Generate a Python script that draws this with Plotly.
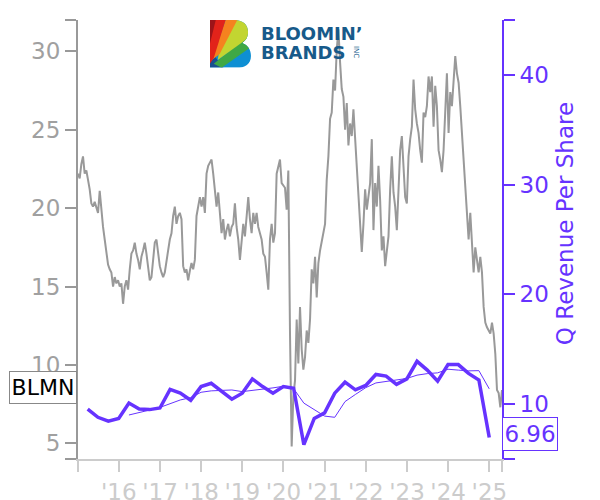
import base64
import pandas as pd
import plotly.graph_objects as go

# ---------------- data ----------------
price_start = "2015-01-04"
price_end = "2025-04-23"
price_values = [
    22.2, 21.9, 22.8, 23.3, 22.2, 22.4, 21.8, 21.2, 20.3, 20.1,
    20.4, 20.1, 19.7, 21.1, 19.7, 18.8, 18.0, 17.1, 16.4, 16.1,
    15.9, 15.0, 15.6, 15.2, 15.4, 15.0, 15.2, 13.9, 15.0, 15.4,
    14.8, 16.1, 17.1, 17.3, 17.8, 17.1, 16.7, 16.1, 16.9, 17.3,
    17.8, 17.1, 16.3, 15.4, 15.6, 16.9, 17.8, 18.0, 17.1, 16.3,
    15.9, 15.6, 15.9, 16.5, 17.3, 18.0, 18.4, 19.5, 20.1, 19.0,
    19.5, 19.7, 19.3, 16.3, 15.9, 16.1, 15.4, 16.0, 16.5, 16.1,
    16.7, 19.5, 20.1, 20.7, 20.1, 20.7, 19.7, 22.2, 22.7, 22.9,
    23.1, 22.2, 21.2, 20.1, 21.0, 19.5, 18.4, 19.3, 18.0, 18.6,
    19.0, 18.2, 18.8, 19.0, 20.3, 18.8, 18.0, 16.7, 17.8, 19.0,
    18.2, 19.7, 20.7, 19.3, 18.4, 19.7, 19.0, 19.7, 18.8, 18.4,
    18.0, 17.1, 16.9, 15.9, 14.8, 18.0, 19.0, 17.8, 18.4, 22.2,
    22.7, 23.1, 21.6, 21.4, 21.3, 19.9, 22.4, 12.0, 4.8, 8.0,
    9.0, 12.9, 10.1, 13.7, 11.0, 9.7, 10.5, 12.2, 11.4, 12.9,
    16.1, 15.2, 16.9, 14.3, 16.5, 17.3, 17.8, 18.4, 19.0, 21.8,
    23.3, 25.7, 26.1, 28.2, 27.5, 30.1, 31.4, 29.3, 27.6, 27.1,
    25.0, 26.7, 24.0, 25.4, 24.6, 26.3, 24.4, 22.9, 20.7, 19.5,
    17.2, 19.0, 21.2, 19.9, 20.7, 21.6, 24.4, 18.6, 21.6, 20.1,
    22.7, 20.5, 17.3, 18.2, 16.3, 17.2, 18.2, 21.2, 23.3, 21.0,
    20.1, 18.6, 21.2, 23.7, 24.6, 22.3, 20.7, 20.3, 23.3, 24.4,
    25.2, 28.2, 26.3, 25.4, 24.8, 23.7, 22.9, 26.1, 25.8, 26.5,
    28.4, 27.4, 28.4, 25.2, 27.8, 26.5, 23.7, 23.1, 22.3, 23.7,
    25.8, 28.6, 24.8, 27.4, 26.5, 28.0, 29.7, 28.6, 28.0, 26.5,
    24.8, 23.1, 21.8, 19.5, 18.0, 19.7, 18.0, 15.9, 17.5, 16.5,
    15.9, 16.9, 15.9, 13.7, 12.7, 12.4, 12.2, 12.0, 12.7, 12.0,
    10.7, 8.4, 8.2, 7.3, 8.4,
]

quarter_dates = [f"{y}-{md}" for y in range(2015, 2025)
                 for md in ("03-31", "06-30", "09-30", "12-31")]
rev_per_share = [
    9.55, 8.8, 8.45, 8.7, 10.1, 9.55, 9.5, 9.65, 11.35, 11.0,
    10.35, 11.6, 11.9, 11.2, 10.45, 11.0, 12.3, 11.6, 11.0, 11.6,
    11.45, 6.3, 8.7, 9.2, 11.0, 12.0, 11.3, 11.7, 12.7, 12.55,
    11.8, 12.3, 13.9, 13.1, 12.1, 13.6, 13.6, 12.8, 12.2, 6.96,
]
avg_dates = quarter_dates[4:]
rev_avg = [
    9.01, 9.2, 9.46, 9.7, 10.01, 10.38, 10.59, 11.08, 11.21, 11.26,
    11.29, 11.14, 11.24, 11.34, 11.48, 11.63, 11.41, 10.09, 9.51, 8.91,
    8.8, 10.23, 10.88, 11.5, 11.93, 12.06, 12.19, 12.34, 12.64, 12.78,
    12.85, 13.18, 13.1, 13.03, 13.05, 11.39,
]

year_ticks = [f"{y}-01-01" for y in range(2016, 2026)]
year_labels = [f"'{str(y)[2:]}" for y in range(2016, 2026)]
left_ticks = [5, 10, 15, 20, 25, 30]
right_ticks = [10, 20, 30, 40]
left_range = [4, 32]
right_range = [5, 45]

ticker = "BLMN"
last_rev_label = "6.96"

# ---------------- figure ----------------
price_dates = pd.date_range(price_start, price_end, periods=len(price_values))

PURPLE = "#6633ff"
GRAY = "#999999"
FONT = "DejaVu Sans"

fig = go.Figure()
fig.add_trace(go.Scatter(x=price_dates, y=price_values, mode="lines",
                         line=dict(color=GRAY, width=2), yaxis="y",
                         showlegend=False, hoverinfo="skip"))
fig.add_trace(go.Scatter(x=avg_dates, y=rev_avg, mode="lines",
                         line=dict(color=PURPLE, width=1), yaxis="y2",
                         showlegend=False, hoverinfo="skip"))
fig.add_trace(go.Scatter(x=quarter_dates, y=rev_per_share, mode="lines",
                         line=dict(color=PURPLE, width=3.5), yaxis="y2",
                         showlegend=False, hoverinfo="skip"))

# the page places the figure 8px in from the top-left corner
fig.update_layout(
    width=592, height=492,
    margin=dict(l=70, r=98, t=12, b=41, autoexpand=False),
    paper_bgcolor="white", plot_bgcolor="white",
    font=dict(family=FONT, size=23),
    xaxis=dict(
        type="date", range=[price_start, price_end], automargin=False,
        tickvals=[price_start] + year_ticks + [price_end],
        ticktext=[""] + year_labels + [""],
        ticks="outside", ticklen=11, tickwidth=2, tickcolor="#cccccc",
        showline=True, linecolor="#cccccc", linewidth=2,
        showgrid=False, zeroline=False,
        tickfont=dict(color="#cccccc", size=23, family=FONT),
    ),
    yaxis=dict(
        range=left_range, automargin=False,
        tickvals=[left_range[0]] + left_ticks + [left_range[1]],
        ticktext=[""] + [str(v) for v in left_ticks] + [""],
        ticks="outside", ticklen=11, tickwidth=2, tickcolor=GRAY,
        showline=True, linecolor=GRAY, linewidth=2,
        showgrid=False, zeroline=False,
        tickfont=dict(color="#a0a0a0", size=23, family=FONT),
    ),
    yaxis2=dict(
        range=right_range, overlaying="y", side="right", automargin=False,
        tickvals=[right_range[0]] + right_ticks + [right_range[1]],
        ticktext=[""] + [str(v) for v in right_ticks] + [""],
        ticks="outside", ticklen=11, tickwidth=2, tickcolor=PURPLE,
        showline=True, linecolor=PURPLE, linewidth=2,
        showgrid=False, zeroline=False,
        tickfont=dict(color=PURPLE, size=23, family=FONT),
    ),
)

# right axis title
fig.add_annotation(text="Q Revenue Per Share", textangle=-90,
                   xref="paper", yref="paper", x=1.184, y=0.535,
                   showarrow=False, font=dict(color=PURPLE, size=23, family=FONT))

# ticker label box
fig.add_annotation(text=ticker, xref="paper", yref="paper", x=-0.002, y=0.163,
                   xanchor="right", yanchor="middle", showarrow=False,
                   font=dict(color="black", size=22, family=FONT),
                   bordercolor="#888888", borderwidth=1, borderpad=1,
                   bgcolor="white", width=64, height=29)

# last value box
fig.add_annotation(text=last_rev_label, xref="paper", yref="paper", x=1.0, y=0.056,
                   xanchor="left", yanchor="middle", showarrow=False,
                   font=dict(color=PURPLE, size=23, family=FONT),
                   bordercolor=PURPLE, borderwidth=1, borderpad=1,
                   bgcolor="white", width=52, height=30)

# logo icon (simple drawn "B")
svg = (
    "<svg xmlns='http://www.w3.org/2000/svg' viewBox='0 0 42 48'>"
    "<defs><clipPath id='c'><path d='M0,0 H25 C34,0 39,5 39,12 C39,17 37,20 33,23 "
    "C39,25 42,30 42,36 C42,44 36,48 27,48 H0 Z'/></clipPath></defs>"
    "<g clip-path='url(#c)'>"
    "<rect x='0' y='0' width='42' height='48' fill='#0e8fd3'/>"
    "<polygon points='0,48 0,30 14,48' fill='#1a4f8f'/>"
    "<polygon points='4,44 42,14 42,27 12,48' fill='#3fa845'/>"
    "<polygon points='10,28 26,0 42,0 42,16 8,40' fill='#c2d531'/>"
    "<polygon points='2,40 16,0 28,0 10,34' fill='#f5821f'/>"
    "<polygon points='0,0 16,0 4,38 0,44' fill='#e2231a'/>"
    "<polygon points='0,0 6,0 0,24' fill='#9d1419'/>"
    "</g></svg>"
)
src = "data:image/svg+xml;base64," + base64.b64encode(svg.encode()).decode()
fig.add_layout_image(source=src, xref="paper", yref="paper",
                     x=0.311, y=1.0, sizex=0.097, sizey=0.109,
                     xanchor="left", yanchor="top", sizing="stretch", layer="above")

LOGO_BLUE = "#175a8a"
fig.add_annotation(text="<b>BLOOMIN’</b>", xref="paper", yref="paper",
                   x=0.427, y=0.970, xanchor="left", yanchor="middle", showarrow=False,
                   font=dict(color=LOGO_BLUE, size=18, family=FONT))
fig.add_annotation(text="<b>BRANDS</b>", xref="paper", yref="paper",
                   x=0.427, y=0.926, xanchor="left", yanchor="middle", showarrow=False,
                   font=dict(color=LOGO_BLUE, size=18, family=FONT))
fig.add_annotation(text="INC", textangle=90, xref="paper", yref="paper",
                   x=0.657, y=0.928, xanchor="center", yanchor="middle", showarrow=False,
                   font=dict(color=LOGO_BLUE, size=7, family=FONT))

fig.write_html("out.html", config={"displayModeBar": False})
